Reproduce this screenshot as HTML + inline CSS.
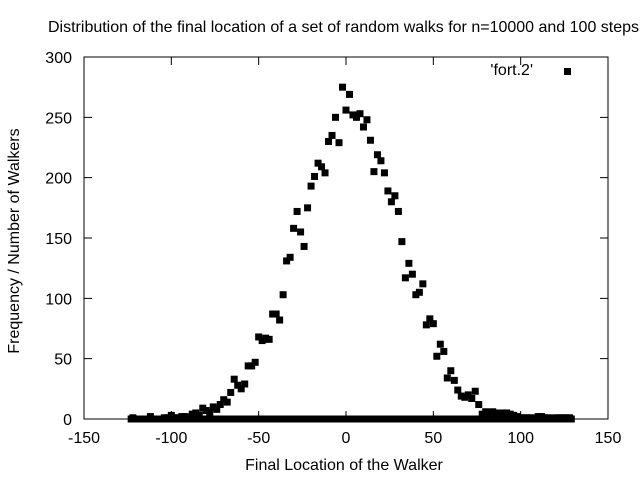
<!DOCTYPE html>
<html><head><meta charset="utf-8"><style>
body{margin:0;background:#fff;}
svg{display:block;font-family:"Liberation Sans",sans-serif;}
</style></head><body>
<svg id="chart" width="640" height="480">
<rect x="0" y="0" width="640" height="480" fill="#fff"/>
<text x="48" y="32" font-size="16">Distribution of the final location of a set of random walks for n=10000 and 100 steps</text>
<rect x="84" y="57" width="524" height="362" fill="none" stroke="#000" stroke-width="1"/>
<g id="ticks"></g>
<g id="marks"></g>
<text x="19" y="241" font-size="16" text-anchor="middle" transform="rotate(-90 19 241)">Frequency / Number of Walkers</text>
<text x="344" y="470" font-size="16" text-anchor="middle">Final Location of the Walker</text>
<text x="533" y="75" font-size="16" text-anchor="end">'fort.2'</text>
<rect x="564" y="68" width="7" height="7" fill="#000"/>
</svg>
<script>
const xTicks=[-150,-100,-50,0,50,100,150];
const yTicks=[0,50,100,150,200,250,300];
const evenPos=[-122,-120,-118,-116,-114,-112,-110,-108,-106,-104,-102,-100,-98,-96,-94,-92,-90,-88,-86,-84,-82,-80,-78,-76,-74,-72,-70,-68,-66,-64,-62,-60,-58,-56,-54,-52,-50,-48,-46,-44,-42,-40,-38,-36,-34,-32,-30,-28,-26,-24,-22,-20,-18,-16,-14,-12,-10,-8,-6,-4,-2,0,2,4,6,8,10,12,14,16,18,20,22,24,26,28,30,32,34,36,38,40,42,44,46,48,50,52,54,56,58,60,62,64,66,68,70,72,74,76,78,80,82,84,86,88,90,92,94,96,98,100,102,104,106,108,110,112,114,116,118,120,122,124,126,128];
const counts=[1,0,0,0,0,2,0,0,0,1,1,3,1,1,2,2,0,4,5,3,9,7,5,10,8,12,16,14,22,33,28,25,29,44,44,47,68,65,67,66,87,87,82,103,131,134,158,172,155,143,175,193,201,212,209,204,230,235,250,229,275,256,269,252,250,253,242,248,231,205,219,214,204,189,180,185,172,147,117,129,120,103,105,112,78,83,79,52,62,56,34,40,32,24,19,18,20,17,23,12,4,6,5,6,5,4,5,5,4,3,2,1,1,1,1,0,2,2,1,1,0,1,1,1,1,1];
const oddPos=[];for(let v=-123;v<=129;v+=2)oddPos.push(v);
const X=v=>346+(v)*524/300, Y=v=>419-v*362/300;
const NS="http://www.w3.org/2000/svg";
const tk=document.getElementById('ticks'), mk=document.getElementById('marks');
function mkEl(tag,attrs,parent){const e=document.createElementNS(NS,tag);for(const k in attrs)e.setAttribute(k,attrs[k]);parent.appendChild(e);return e;}
xTicks.forEach(t=>{const x=X(t);
 let l=mkEl('path',{d:`M${x} 419v-8M${x} 57v8`,stroke:'#000','stroke-width':1},tk);
 
 
 let s=mkEl('text',{x:x,y:443,'font-size':16,'text-anchor':'middle'},tk);s.textContent=t;
 
 });
yTicks.forEach(t=>{const y=Y(t);
 let l=mkEl('path',{d:`M84 ${y}h8M608 ${y}h-8`,stroke:'#000','stroke-width':1},tk);
 
 
 let s=mkEl('text',{x:72,y:y+6,'font-size':16,'text-anchor':'end'},tk);s.textContent=t;
 
 });
function pt(v,c){const r=mkEl('rect',{x:X(v)-3.5,y:Y(c)-3.5,width:7,height:7,fill:'#000'},mk);
 
 }
oddPos.forEach(v=>pt(v,0));
evenPos.forEach((v,i)=>pt(v,counts[i]));
</script>
</body></html>
